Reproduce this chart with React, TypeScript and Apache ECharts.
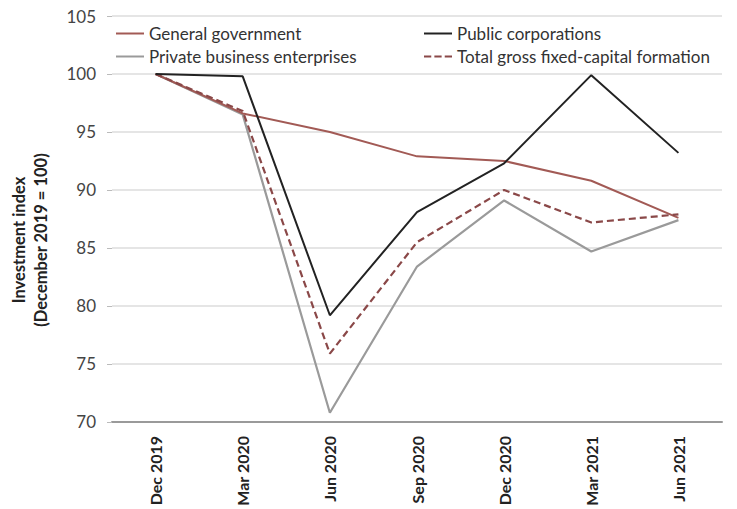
import React, { useEffect, useRef } from "react";
import * as echarts from "echarts";

const categories = ["Dec 2019", "Mar 2020", "Jun 2020", "Sep 2020", "Dec 2020", "Mar 2021", "Jun 2021"];
const generalGovernment = [100, 96.6, 95.0, 92.9, 92.5, 90.8, 87.6];
const publicCorporations = [100, 99.8, 79.2, 88.1, 92.3, 99.9, 93.2];
const privateBusiness = [100, 96.5, 70.8, 83.4, 89.1, 84.7, 87.4];
const totalGFCF = [100, 96.8, 75.9, 85.5, 90.0, 87.2, 87.9];
const yTicks = { min: 70, max: 105, interval: 5 };
const yAxisTitle = "Investment index\n(December 2019 = 100)";

const FONT = "Lato, 'Open Sans', sans-serif";

export default function App() {
  const ref = useRef<HTMLDivElement>(null);
  useEffect(() => {
    if (!ref.current) return;
    const chart = echarts.init(ref.current, undefined, { renderer: "svg" });
    const legendText = { fontFamily: FONT, fontSize: 17, color: "#333" };
    const solidIcon = "path://M0,4 L28,4 L28,6 L0,6 Z";
    const dashIcon = "path://M0,4 L7,4 L7,6 L0,6 Z M10,4 L17,4 L17,6 L10,6 Z M20,4 L27,4 L27,6 L20,6 Z";
    chart.setOption({
      animation: false,
      backgroundColor: "#fff",
      grid: { left: 112, right: 15, top: 16, bottom: 87 },
      legend: [
        {
          left: 116,
          top: 25,
          orient: "vertical",
          itemWidth: 28,
          itemHeight: 10,
          itemGap: 6,
          padding: 0,
          textStyle: legendText,
          data: [
            { name: "General government", icon: solidIcon },
            { name: "Private business enterprises", icon: solidIcon },
          ],
        },
        {
          left: 424,
          top: 25,
          orient: "vertical",
          itemWidth: 28,
          itemHeight: 10,
          itemGap: 6,
          padding: 0,
          textStyle: legendText,
          data: [
            { name: "Public corporations", icon: solidIcon },
            { name: "Total gross fixed-capital formation", icon: dashIcon },
          ],
        },
      ],
      graphic: [
        {
          type: "text",
          x: 30,
          y: 240,
          rotation: Math.PI / 2,
          style: {
            text: yAxisTitle,
            fontFamily: FONT,
            fontSize: 16.5,
            fontWeight: "bold",
            fill: "#222",
            lineHeight: 22,
            align: "center",
            verticalAlign: "middle",
          },
        },
      ],
      xAxis: {
        type: "category",
        data: categories,
        boundaryGap: true,
        axisLine: { lineStyle: { color: "#9a9a9a", width: 2 } },
        axisTick: { show: false },
        axisLabel: {
          rotate: 90,
          fontFamily: FONT,
          fontSize: 16,
          fontWeight: "bold",
          color: "#222",
          margin: 14,
        },
      },
      yAxis: {
        type: "value",
        min: yTicks.min,
        max: yTicks.max,
        interval: yTicks.interval,
        axisLine: { show: false },
        axisTick: { show: true, length: 5, lineStyle: { color: "#bbb" } },
        axisLabel: { fontFamily: FONT, fontSize: 17, color: "#444", margin: 16 },
        splitLine: { lineStyle: { color: "#dcdcdc", width: 1.5 } },
      },
      series: [
        {
          name: "General government",
          type: "line",
          data: generalGovernment,
          symbol: "none",
          lineStyle: { color: "#a25a55", width: 2 },
          itemStyle: { color: "#a25a55" },
          z: 3,
        },
        {
          name: "Public corporations",
          type: "line",
          data: publicCorporations,
          symbol: "none",
          lineStyle: { color: "#222", width: 2 },
          itemStyle: { color: "#222" },
          z: 4,
        },
        {
          name: "Private business enterprises",
          type: "line",
          data: privateBusiness,
          symbol: "none",
          lineStyle: { color: "#9a9a9a", width: 2.2 },
          itemStyle: { color: "#9a9a9a" },
          z: 2,
        },
        {
          name: "Total gross fixed-capital formation",
          type: "line",
          data: totalGFCF,
          symbol: "none",
          lineStyle: { color: "#8a4848", width: 2.2, type: [7, 4] },
          itemStyle: { color: "#8a4848" },
          z: 3,
        },
      ],
    });
    return () => chart.dispose();
  }, []);
  return <div ref={ref} style={{ width: 737, height: 509, position: "absolute", left: 0, top: 0 }} />;
}
